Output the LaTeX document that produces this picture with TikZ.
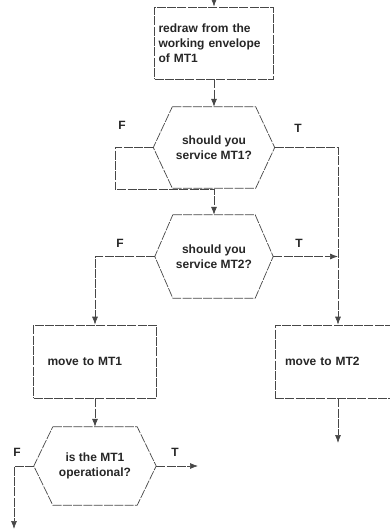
\documentclass[tikz,border=0pt]{standalone}
\usepackage{fontspec}
\setmainfont{Liberation Sans}
\usetikzlibrary{arrows.meta}

% hexagon round a decision node, with its two side corners as coordinates
\newcommand{\hexframe}[2]{%
  \draw[flow] (#1.north west) -- (#1.north east)
    -- ([xshift=#2]#1.east) coordinate (#1-r)
    -- (#1.south east) -- (#1.south west)
    -- ([xshift=-#2]#1.west) coordinate (#1-l) -- cycle;}

\tikzset{
  flow/.style={draw=black!72, line width=0.7pt, dash pattern=on 9pt off 1.3pt},
  flowarrow/.style={flow, -{Latex[length=8pt,width=6pt]}},
  boxtext/.style={font=\fontsize{12}{15}\selectfont\bfseries, text=black!85},
  procbox/.style={flow, rectangle, boxtext, align=left, inner ysep=0pt},
  decision/.style={boxtext, align=center, inner sep=0pt},
  tflabel/.style={font=\fontsize{12}{14}\selectfont\bfseries, text=black!85}
}

\begin{document}
\begin{tikzpicture}[x=1pt, y=-1pt]

\useasboundingbox (0,0) rectangle (389,531);

% ===== blocks =====
\node[procbox, text width=111pt, inner xsep=4pt, minimum height=72pt]
  (box1) at (214,43) {redraw from the\\working envelope\\of MT1};

\node[decision, minimum width=83pt, minimum height=81pt]
  (hex1) at (214,147.5) {should you\\service MT1?};
\hexframe{hex1}{19pt}

\node[decision, minimum width=82pt, minimum height=83pt]
  (hex2) at (214,256.5) {should you\\service MT2?};
\hexframe{hex2}{18pt}

\node[procbox, text width=95pt, inner xsep=14pt, minimum height=73pt]
  (mt1) at (95,361.5) {move to MT1};

\node[procbox, text width=106pt, inner xsep=10pt, minimum height=73pt]
  (mt2) at (338,361.5) {move to MT2};

\node[decision, minimum width=84pt, minimum height=78pt]
  (hex3) at (95,466) {is the MT1\\operational?};
\hexframe{hex3}{19pt}

% ===== free ends =====
\coordinate (start) at (214,-3);
\coordinate (mt2out) at (338,443);
\coordinate (t3out) at (198,466);
\coordinate (f3out) at (14,529);

% ===== connectors =====
\draw[flowarrow] (start) -- (box1.north);
\draw[flowarrow] (box1.south) -- (hex1.north);

% F of first question loops back into the second one
\draw[flowarrow] (hex1-l) -- ++(-38,0) |- ([yshift=25pt]hex2.north) -- (hex2.north);
\draw[flowarrow] (hex1-r) -| (mt2.north);

\draw[flowarrow] (hex2-l) -| (mt1.north);
\draw[flowarrow] (hex2-r) -- (hex2-r -| mt2.north);

\draw[flowarrow] (mt1.south) -- (hex3.north);
\draw[flowarrow] (mt2.south) -- (mt2out);

\draw[flowarrow] (hex3-r) -- (t3out);
\draw[flowarrow] (hex3-l) -| (f3out);

% ===== T / F labels =====
\node[tflabel] (f1) at (122,125) {F};
\node[tflabel] (t1) at (298,128) {T};
\node[tflabel] (f2) at (120,243) {F};
\node[tflabel] (t2) at (299,243) {T};
\node[tflabel] (f3) at (17,452) {F};
\node[tflabel] (t3) at (175,452) {T};

\end{tikzpicture}
\end{document}
